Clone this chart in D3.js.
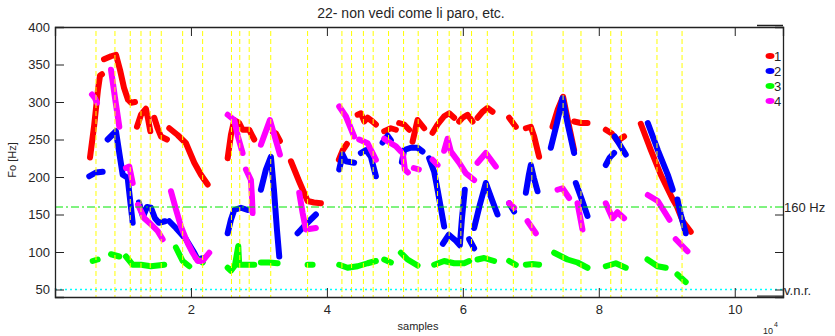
<!DOCTYPE html>
<html>
<head>
<meta charset="utf-8">
<script src="https://cdnjs.cloudflare.com/ajax/libs/d3/7.8.5/d3.min.js"></script>
<style>
body { margin: 0; background: #fff; }
text { font-family: "Liberation Sans", Arial, sans-serif; fill: #262626; }
</style>
</head>
<body>
<div id="chart-area"></div>
<script>
var title = "22- non vedi come li paro, etc.";
var yTicks = [50, 100, 150, 200, 250, 300, 350, 400];
var xTicks = [20000, 40000, 60000, 80000, 100000];
var rightTicks = [50, 100, 150];
var seriesNames = ["1", "2", "3", "4"];
var threshold = 160;
var vnrLevel = 50;

// syllable marks (samples)
var marks = [6030, 8820, 11070, 12650, 14010, 15630, 18780, 21720, 25960, 27180,
  28570, 31740, 37160, 42210, 43630, 45370, 46810, 49070, 51280, 53430, 56280,
  57990, 59710, 61280, 63600, 67430, 70150, 74750, 77380, 81760, 83310, 88560, 92250];

// F0 contours, [sample, Hz], one list per voiced stretch
var f0One = [
  [[5150,226],[5740,267],[6320,316],[6620,335],[6910,337]],
  [[7210,357],[8240,361],[8970,363],[9560,343],[10150,319],[10740,303],[11180,299],[11770,300]],
  [[12060,267],[12650,283],[13380,291],[13720,276],[14020,261]],
  [[14600,279],[15100,265],[15590,254],[16470,250]],
  [[16810,265],[18040,256],[19270,245],[20490,219],[21470,203],[22460,190]],
  [[25400,225],[25880,256],[26370,276],[27100,272],[27600,263],[28570,263],[29310,250]],
  [[32060,260],[32500,258],[33090,248]],
  [[34710,221],[35880,195],[37160,168],[38090,166],[39120,165]],
  [[41760,223],[42350,236],[42940,244]],
  [[44520,283],[45000,285],[45490,274],[45990,279],[46720,274],[47210,270]],
  [[48430,261],[49410,265],[50150,263]],
  [[50630,272],[51370,270],[52100,263]],
  [[52600,247],[53340,276],[54310,265]],
  [[55540,259],[56280,270],[57250,281],[57990,285],[58720,279]],
  [[59460,274],[59960,279],[60690,283],[61430,274]],
  [[62160,279],[62900,287],[63630,292],[64370,287]],
  [[66810,279],[67790,267]],
  [[69270,265],[70000,267],[70490,254],[71220,227]],
  [[73190,267],[73970,290],[74750,307],[75440,276],[76370,236]],
  [[76370,274],[77350,272],[78340,272]],
  [[81030,263],[81910,258],[82750,248],[83720,254]],
  [[86180,271],[87650,236],[89120,203],[90840,171],[91470,161],[92350,141],[93530,127]]
];

var f0Two = [
  [[5040,201],[6030,206],[7010,207]],
  [[7750,250],[8970,261],[9460,232],[9960,203],[10690,199],[10930,179],[11430,139]],
  [[12350,166],[12940,147],[13530,160],[14120,159],[14710,145],[15290,139],[16180,141]],
  [[16810,141],[17790,132],[19270,117],[20490,99],[20990,90],[21720,92]],
  [[25400,125],[25880,143],[26370,156],[27350,159],[28340,156]],
  [[30290,183],[31030,210],[31760,227],[32210,183],[32650,130],[32990,94]],
  [[35690,125],[36910,137],[38380,150]],
  [[41810,210],[42310,230],[42790,221],[44010,219]],
  [[45000,232],[45740,236],[46470,227],[47210,201]],
  [[48190,246],[48930,255],[49410,249]],
  [[51030,220],[51370,236],[52350,239],[53340,239],[54070,234]],
  [[55040,225],[55780,207],[56280,183],[56760,159],[57250,134]],
  [[57060,111],[57940,123],[58970,115],[59560,109],[59850,143],[60290,183]],
  [[60930,117],[61660,105]],
  [[61660,132],[62500,163],[63380,192],[64270,170],[65100,150]],
  [[66810,165],[67540,154]],
  [[69270,179],[69710,203],[70000,216],[70440,199],[70990,181]],
  [[72940,239],[73820,271],[74660,305],[75440,270],[76370,232]],
  [[76620,192],[77500,170],[78340,148]],
  [[81030,216],[81620,226],[82250,232]],
  [[82350,254],[83090,243],[83970,230]],
  [[87210,272],[88680,236],[90150,203],[90880,183]],
  [[91570,170],[92060,150],[92790,125]]
];

var f0Three = [
  [[5540,88],[6280,90]],
  [[8240,97],[9460,94]],
  [[10440,94],[11430,83],[12650,83],[14120,81],[16070,83]],
  [[17790,106],[18780,88],[19750,81]],
  [[20740,92],[21720,86]],
  [[25400,79],[25880,75],[26470,82],[26960,108],[27100,83],[27840,83],[29310,83]],
  [[30290,86],[31500,86],[32750,85]],
  [[37160,83],[37900,83]],
  [[41810,83],[43040,79],[44520,81],[45990,85],[47210,88]],
  [[48430,90],[49410,86]],
  [[50880,99],[51870,90],[53340,82]],
  [[55780,83],[57250,88],[58720,85],[60190,85],[60930,88]],
  [[62160,90],[63130,92],[64600,88]],
  [[66810,88],[67790,83]],
  [[69270,83],[70240,84],[71220,83]],
  [[73430,99],[75400,90],[76870,86],[78340,79]],
  [[81030,81],[82500,85],[83970,79]],
  [[87160,90],[88630,81],[89850,79]],
  [[91570,70],[92790,60]]
];

var f0Four = [
  [[5440,310],[5880,305],[6180,299]],
  [[8240,343],[8820,306],[9460,267]],
  [[10440,212],[10930,214],[11430,192]],
  [[12210,163],[13130,145],[14120,137],[15100,128],[15840,117]],
  [[17060,181],[17790,157],[18530,134],[19510,112],[20250,99],[20990,88],[21720,88],[22690,99]],
  [[25400,283],[26370,276],[26910,254],[27600,232]],
  [[28090,210],[28820,196],[28970,174],[29070,152]],
  [[30290,243],[31620,276],[33090,230]],
  [[35930,179],[36430,152],[36910,130],[38380,132]],
  [[41810,294],[42790,281],[44010,254]],
  [[44750,250],[45990,245],[46720,232],[47210,223]],
  [[48430,251],[49410,245],[50150,241],[50880,234]],
  [[51180,230],[51470,210],[51910,206]],
  [[52790,212],[53530,210]],
  [[55540,223],[56280,216]],
  [[57250,235],[57750,251],[58240,234],[59460,219],[60440,205],[61660,196]],
  [[62160,219],[63380,232],[64850,214]],
  [[66810,165],[67540,159]],
  [[69520,141],[70740,125]],
  [[73930,183],[74660,185],[75630,172]],
  [[76870,165],[77600,130]],
  [[81030,165],[82010,145],[82750,153],[83720,145]],
  [[87210,176],[88680,168],[90400,143]],
  [[91320,117],[93040,101]]
];

var colors = ["#ff0000", "#0000ff", "#00ff00", "#ff00ff"];

var margin = { top: 27, right: 52, bottom: 39, left: 55 };
var width = 835 - margin.left - margin.right;
var height = 336 - margin.top - margin.bottom;

var svg = d3.select("#chart-area")
  .append("svg")
  .attr("width", 835)
  .attr("height", 336);

var g = svg.append("g")
  .attr("transform", "translate(" + margin.left + "," + margin.top + ")");

var x = d3.scaleLinear()
  .domain([0, 107100])
  .range([0, width]);

var y = d3.scaleLinear()
  .domain([40, 400])
  .range([height, 0]);

var line = d3.line()
  .x(d => x(d[0]))
  .y(d => y(d[1]));

// contours
[f0One, f0Two, f0Three, f0Four].forEach((segs, i) => {
  g.selectAll("path.s" + i)
    .data(segs)
    .enter().append("path")
    .attr("class", "s" + i)
    .attr("d", line)
    .attr("fill", "none")
    .attr("stroke", colors[i])
    .attr("stroke-width", 6)
    .attr("stroke-linecap", "round")
    .attr("stroke-linejoin", "round");
});

// reference lines
g.selectAll("line.mark")
  .data(marks)
  .enter().append("line")
  .attr("class", "mark")
  .attr("x1", d => x(d))
  .attr("x2", d => x(d))
  .attr("y1", 4)
  .attr("y2", height)
  .attr("stroke", "#ffff00")
  .attr("stroke-width", 1)
  .attr("stroke-dasharray", "5,3");

g.append("line")
  .attr("x1", 0).attr("x2", width)
  .attr("y1", y(threshold)).attr("y2", y(threshold))
  .attr("stroke", "#00e600")
  .attr("stroke-width", 1)
  .attr("stroke-dasharray", "8,3,2,3");

g.append("line")
  .attr("x1", 0).attr("x2", width)
  .attr("y1", y(vnrLevel)).attr("y2", y(vnrLevel))
  .attr("stroke", "#00ffff")
  .attr("stroke-width", 1.5)
  .attr("stroke-dasharray", "2,3");

// axes
var xAxisCall = d3.axisBottom(x)
  .tickValues(xTicks)
  .tickSize(-9)
  .tickPadding(8)
  .tickFormat(d => d / 10000);
g.append("g")
  .attr("transform", "translate(0," + height + ")")
  .call(xAxisCall);

g.append("g")
  .call(d3.axisTop(x).tickValues(xTicks).tickSize(-9).tickFormat(""));

var yAxisCall = d3.axisLeft(y)
  .tickValues(yTicks)
  .tickSize(-9)
  .tickPadding(5);
g.append("g")
  .call(yAxisCall);

g.append("g")
  .attr("transform", "translate(" + width + ",0)")
  .call(d3.axisRight(y).tickValues(rightTicks).tickSize(-8).tickFormat(""));

g.selectAll(".domain")
  .attr("stroke", "#222")
  .attr("stroke-width", 1.3);
g.selectAll(".tick line").attr("stroke", "#222");
g.selectAll(".tick text")
  .attr("font-size", "13px")
  .attr("fill", "#262626");

// legend box edge sits just outside the axes frame
g.append("path")
  .attr("d", "M" + (width - 26) + ",-1.5H" + width + "M" + (width - 26) + "," + (height - 0.8) + "H" + width)
  .attr("fill", "none")
  .attr("stroke", "#222")
  .attr("stroke-width", 1.3);

var legend = g.selectAll("g.legend")
  .data(seriesNames)
  .enter().append("g")
  .attr("class", "legend")
  .attr("transform", (d, i) => "translate(" + (width - 13) + "," + (29 + i * 15) + ")");

legend.append("ellipse")
  .attr("rx", 4.5)
  .attr("ry", 3)
  .attr("fill", (d, i) => colors[i]);

legend.append("text")
  .attr("x", 4)
  .attr("y", 5)
  .attr("font-size", "13px")
  .text(d => d);

// labels
svg.append("text")
  .attr("x", 411)
  .attr("y", 18)
  .attr("font-size", "14px")
  .attr("text-anchor", "middle")
  .text(title);

svg.append("text")
  .attr("x", 784)
  .attr("y", y(threshold) + margin.top + 5)
  .attr("font-size", "13px")
  .text("160 Hz");

svg.append("text")
  .attr("x", 784)
  .attr("y", y(vnrLevel) + margin.top + 5)
  .attr("font-size", "13px")
  .text("v.n.r.");

svg.append("text")
  .attr("x", 418)
  .attr("y", 330)
  .attr("font-family", "'Liberation Serif', serif")
  .attr("font-size", "11px")
  .attr("text-anchor", "middle")
  .text("samples");

svg.append("text")
  .attr("transform", "translate(16,160) rotate(-90)")
  .attr("font-family", "'Liberation Serif', serif")
  .attr("font-size", "11px")
  .attr("text-anchor", "middle")
  .text("Fo [Hz]");

svg.append("text")
  .attr("x", 763)
  .attr("y", 334)
  .attr("font-size", "9px")
  .text("10");
svg.append("text")
  .attr("x", 774)
  .attr("y", 327)
  .attr("font-size", "7px")
  .text("4");
</script>
</body>
</html>
